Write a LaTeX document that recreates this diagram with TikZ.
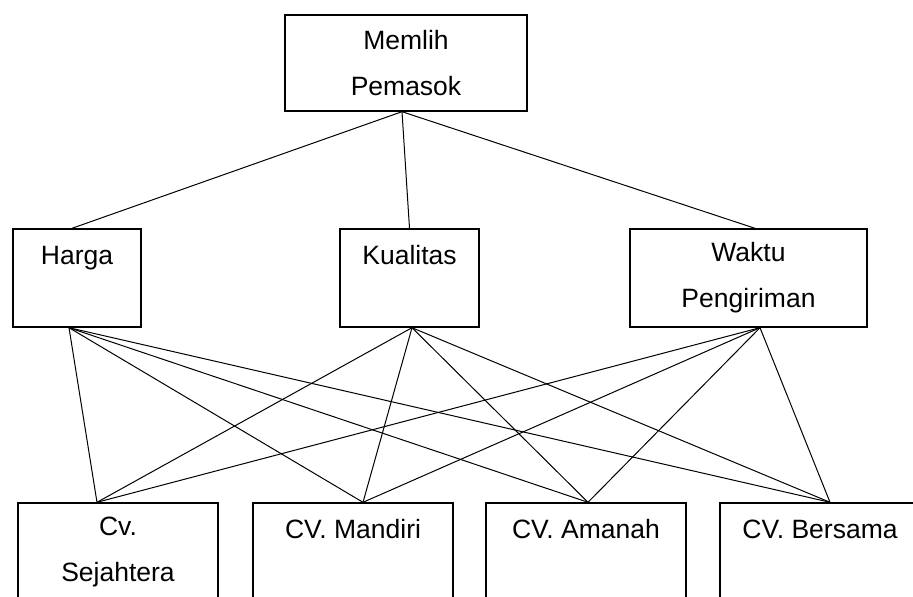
\documentclass[tikz,border=0pt]{standalone}
\usepackage{fontspec}
\setmainfont{Liberation Sans}
\usetikzlibrary{positioning,calc}

\begin{document}
\begin{tikzpicture}[
  x=1pt, y=-1pt,
  font=\fontsize{26.5}{46}\selectfont,
  box/.style={draw, line width=1.4pt, align=center, inner sep=0pt, minimum height=98pt},
  con/.style={line width=1pt}]
  \useasboundingbox (0,0) rectangle (913,597);
  \clip (0,0) rectangle (913,597);
  % goal
  \node[box, minimum width=242pt, minimum height=96pt] (goal) at (406,63) {Memlih\\Pemasok};
  % criteria
  \node[box, minimum width=128pt] (harga) at (77,278) {Harga\\\mbox{}};
  \node[box, minimum width=139pt] (kual) at (409.5,278) {Kualitas\\\mbox{}};
  \node[box, minimum width=237pt] (waktu) at (748.5,278) {Waktu\\Pengiriman};
  % alternatives
  \node[box, minimum width=200pt] (sej) at (118,552) {Cv.\\Sejahtera};
  \node[box, minimum width=200pt] (man) at (353,552) {CV. Mandiri\\\mbox{}};
  \node[box, minimum width=200pt] (ama) at (586,552) {CV. Amanah\\\mbox{}};
  \node[box, minimum width=200pt] (ber) at (820,552) {CV. Bersama\\\mbox{}};
  % joints
  \coordinate (goal-b) at ($(goal.south)+(-4,0)$);
  \coordinate (harga-t) at ($(harga.north)+(-5,0)$);
  \coordinate (harga-b) at ($(harga.south)+(-8,0)$);
  \coordinate (kual-t) at (kual.north);
  \coordinate (kual-b) at ($(kual.south)+(2.5,0)$);
  \coordinate (waktu-t) at ($(waktu.north)+(6.5,0)$);
  \coordinate (waktu-b) at ($(waktu.south)+(11.5,0)$);
  \coordinate (sej-t) at ($(sej.north)+(-21,0)$);
  \coordinate (man-t) at ($(man.north)+(10,0)$);
  \coordinate (ama-t) at ($(ama.north)+(2,0)$);
  \coordinate (ber-t) at ($(ber.north)+(10,0)$);
  % goal to criteria
  \draw[con] (goal-b) -- (harga-t);
  \draw[con] (goal-b) -- (kual-t);
  \draw[con] (goal-b) -- (waktu-t);
  % criteria to alternatives
  \draw[con] (harga-b) -- (sej-t);
  \draw[con] (harga-b) -- (man-t);
  \draw[con] (harga-b) -- (ama-t);
  \draw[con] (harga-b) -- (ber-t);
  \draw[con] (kual-b) -- (sej-t);
  \draw[con] (kual-b) -- (man-t);
  \draw[con] (kual-b) -- (ama-t);
  \draw[con] (kual-b) -- (ber-t);
  \draw[con] (waktu-b) -- (sej-t);
  \draw[con] (waktu-b) -- (man-t);
  \draw[con] (waktu-b) -- (ama-t);
  \draw[con] (waktu-b) -- (ber-t);
\end{tikzpicture}
\end{document}
